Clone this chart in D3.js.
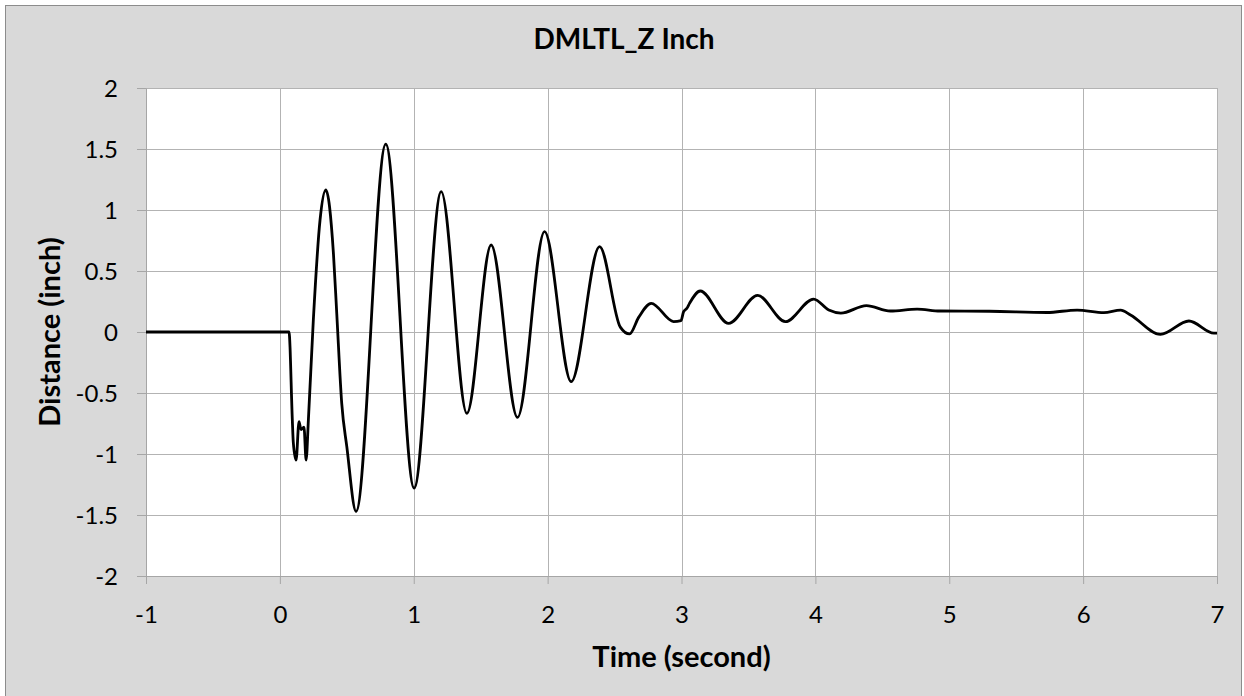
<!DOCTYPE html>
<html>
<head>
<meta charset="utf-8">
<script src="https://cdn.jsdelivr.net/npm/d3@7"></script>
<style>
  html, body { margin: 0; padding: 0; background: #ffffff; }
  svg { display: block; }
</style>
</head>
<body>
<svg id="chart" width="1244" height="696"></svg>
<script>
// ---- data ----
const timeValues = [
  -1, 0.068, 0.093, 0.10, 0.121, 0.143, 0.158, 0.18, 0.196, 0.213, 0.25, 0.30, 0.343,
  0.40, 0.425, 0.462, 0.50, 0.569, 0.791, 1.003, 1.205,
  1.397, 1.578, 1.775, 1.977, 2.176, 2.388, 2.543,
  2.612, 2.68, 2.774, 2.941, 2.996, 3.016, 3.04, 3.06, 3.14, 3.352, 3.569, 3.776,
  3.987, 4.10, 4.19, 4.381, 4.56, 4.76, 4.93, 5.3, 5.73, 5.955, 6.155, 6.28, 6.354,
  6.578, 6.79, 6.977, 7
];
const distanceValues = [
  0, 0, -0.72, -0.9, -1.05, -0.735, -0.80, -0.78, -1.05, -0.72, 0.1, 0.918, 1.164,
  0.645, 0.15, -0.585, -0.94, -1.47, 1.54, -1.28, 1.15,
  -0.667, 0.713, -0.70, 0.822, -0.407, 0.70, 0.04,
  -0.016, 0.12, 0.235, 0.085, 0.093, 0.167, 0.194, 0.235, 0.336, 0.071, 0.30, 0.085,
  0.27, 0.18, 0.155, 0.216, 0.172, 0.188, 0.172, 0.17, 0.16, 0.18, 0.158, 0.18, 0.14,
  -0.02, 0.09, -0.01, -0.01
];
const xTickValues = [-1, 0, 1, 2, 3, 4, 5, 6, 7];
const yTickValues = [-2, -1.5, -1, -0.5, 0, 0.5, 1, 1.5, 2];
const chartTitle = "DMLTL_Z Inch";
const xTitle = "Time (second)";
const yTitle = "Distance (inch)";

// ---- layout ----
const W = 1244, H = 696;
const plot = { left: 146, top: 88, right: 1217, bottom: 576 };
const font = "Lato, 'Open Sans', sans-serif";

const svg = d3.select("#chart");

// chart area background + border
svg.append("rect").attr("x", 0).attr("y", 0).attr("width", W).attr("height", H).attr("fill", "#ffffff");
svg.append("rect")
  .attr("x", 5.5).attr("y", 5.5).attr("width", 1236).attr("height", 700)
  .attr("fill", "#d9d9d9").attr("stroke", "#8c8c8c").attr("stroke-width", 1);

const x = d3.scaleLinear().domain([-1, 7]).range([plot.left, plot.right]);
const y = d3.scaleLinear().domain([-2, 2]).range([plot.bottom, plot.top]);

// plot area
svg.append("rect")
  .attr("x", plot.left).attr("y", plot.top)
  .attr("width", plot.right - plot.left).attr("height", plot.bottom - plot.top)
  .attr("fill", "#ffffff");

// gridlines
const grid = svg.append("g").attr("class", "grid");
grid.selectAll("line.h").data(yTickValues).join("line")
  .attr("class", "h")
  .attr("x1", plot.left).attr("x2", plot.right)
  .attr("y1", d => Math.round(y(d)) + 0.5).attr("y2", d => Math.round(y(d)) + 0.5)
  .attr("stroke", "#b3b3b3").attr("stroke-width", 1);
grid.selectAll("line.v").data(xTickValues).join("line")
  .attr("class", "v")
  .attr("y1", plot.top).attr("y2", plot.bottom)
  .attr("x1", d => Math.round(x(d)) + 0.5).attr("x2", d => Math.round(x(d)) + 0.5)
  .attr("stroke", "#b3b3b3").attr("stroke-width", 1);

// axes
const xAxis = d3.axisBottom(x).tickValues(xTickValues).tickSize(8).tickSizeOuter(0)
  .tickFormat(d => String(d));
const yAxis = d3.axisLeft(y).tickValues(yTickValues).tickSize(9).tickSizeOuter(0)
  .tickFormat(d => String(d));

const gx = svg.append("g").attr("transform", `translate(0,${plot.bottom})`).call(xAxis);
const gy = svg.append("g").attr("transform", `translate(${plot.left},0)`).call(yAxis);

[gx, gy].forEach(g => {
  g.select(".domain").attr("stroke", "#a6a6a6").attr("stroke-width", 1);
  g.selectAll(".tick line").attr("stroke", "#a6a6a6");
  g.selectAll(".tick text")
    .attr("fill", "#000000")
    .style("font-family", font)
    .style("font-size", "24px");
});
gx.selectAll(".tick text").attr("dy", null).attr("y", 47);
gy.selectAll(".tick text").attr("x", -28).attr("dy", "0.36em");

// data line
const pts = timeValues.map((t, i) => [t, distanceValues[i]]);
const line = d3.line().x(d => x(d[0])).y(d => y(d[1])).curve(d3.curveMonotoneX);
svg.append("path")
  .datum(pts)
  .attr("d", line)
  .attr("fill", "none")
  .attr("stroke", "#000000")
  .attr("stroke-width", 2.8)
  .attr("stroke-linejoin", "round");

// titles
svg.append("text")
  .attr("x", 624).attr("y", 49)
  .attr("text-anchor", "middle")
  .style("font-family", font).style("font-weight", "bold").style("font-size", "28px")
  .text(chartTitle);

svg.append("text")
  .attr("x", (plot.left + plot.right) / 2).attr("y", 667)
  .attr("text-anchor", "middle")
  .style("font-family", font).style("font-weight", "bold").style("font-size", "29px")
  .text(xTitle);

svg.append("text")
  .attr("transform", `translate(60,${(plot.top + plot.bottom) / 2}) rotate(-90)`)
  .attr("text-anchor", "middle")
  .style("font-family", font).style("font-weight", "bold").style("font-size", "29px")
  .text(yTitle);
</script>
</body>
</html>
